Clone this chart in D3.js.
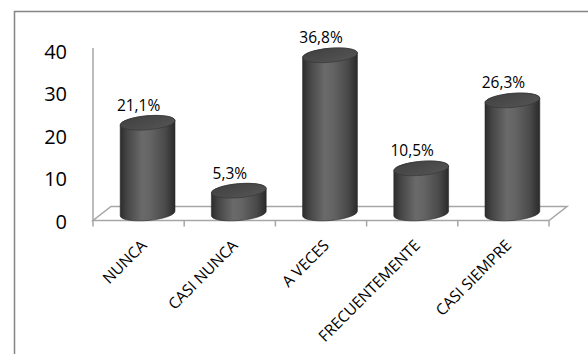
<!DOCTYPE html>
<html>
<head>
<meta charset="utf-8">
<script src="https://cdn.jsdelivr.net/npm/d3@7"></script>
<style>
  html, body { margin: 0; padding: 0; background: #fff; }
  svg { display: block; }
  text { font-family: "Open Sans", "Noto Sans", sans-serif; fill: #000; }
</style>
</head>
<body>
<svg id="chart" width="588" height="354"></svg>
<script>
const categories = ["NUNCA", "CASI NUNCA", "A VECES", "FRECUENTEMENTE", "CASI SIEMPRE"];
const values = [21.1, 5.3, 36.8, 10.5, 26.3];
const valueLabels = ["21,1%", "5,3%", "36,8%", "10,5%", "26,3%"];
const yTicks = [0, 10, 20, 30, 40];

const svg = d3.select("#chart");
const defs = svg.append("defs");

const grad = defs.append("linearGradient").attr("id", "cyl").attr("x1", "0").attr("x2", "1").attr("y1", "0").attr("y2", "0");
[[0, "#2c2c2c"], [0.12, "#444"], [0.4, "#6a6a6a"], [0.55, "#646464"], [0.82, "#4a4a4a"], [1, "#2a2a2a"]]
  .forEach(([o, c]) => grad.append("stop").attr("offset", o).attr("stop-color", c));
const gradTop = defs.append("linearGradient").attr("id", "cyltop").attr("x1", "0").attr("x2", "1").attr("y1", "0").attr("y2", "1");
[[0, "#404040"], [1, "#555555"]].forEach(([o, c]) => gradTop.append("stop").attr("offset", o).attr("stop-color", c));

// outer border
svg.append("rect").attr("x", 14.5).attr("y", 11.5).attr("width", 700).attr("height", 500)
  .attr("fill", "none").attr("stroke", "#858585").attr("stroke-width", 1.5);

const x0 = 93, x1 = 549, frontY = 220.5;
const depthX = 18, depthY = -14;

const x = d3.scaleBand().domain(categories).range([x0, x1]).padding(0);
const yAxisScale = d3.scaleLinear().domain([0, 40]).range([221.5, 51.5]);
const yBar = d3.scaleLinear().domain([0, 40]).range([frontY + depthY / 2, frontY + depthY / 2 - 172]);

const gridCol = "#a6a6a6";
// floor
const floor = [[x0, frontY], [x1, frontY], [x1 + depthX, frontY + depthY], [x0 + depthX, frontY + depthY]];
svg.append("path").attr("d", d3.line()(floor) + "Z")
  .attr("fill", "none").attr("stroke", gridCol).attr("stroke-width", 1.5);
// vertical axis line
svg.append("line").attr("x1", x0).attr("x2", x0).attr("y1", yAxisScale(40) - 3.5).attr("y2", frontY)
  .attr("stroke", gridCol).attr("stroke-width", 1.5);
// category tick marks
const bounds = categories.map(c => x(c)).concat([x1]);
svg.selectAll(".tick").data(bounds).enter().append("line")
  .attr("x1", d => d).attr("x2", d => d).attr("y1", frontY).attr("y2", frontY + 6)
  .attr("stroke", gridCol).attr("stroke-width", 1.5);

// y tick labels
svg.selectAll(".ylab").data(yTicks).enter().append("text")
  .attr("x", 67).attr("y", d => yAxisScale(d)).attr("dy", "0.36em")
  .attr("text-anchor", "end").style("font-size", "20px").text(d => d);

// cylinders
const rx = 27.5, ry = 7, tilt = -5;
const t = tilt * Math.PI / 180;
const ex = rx * Math.cos(t), ey = rx * Math.sin(t);
categories.forEach((c, i) => {
  const cx = x(c) + x.bandwidth() / 2 + depthX / 2;
  const by = yBar(0), ty = yBar(values[i]);
  const body = `M${cx - ex},${ty - ey} L${cx - ex},${by - ey} ` +
    `A${rx},${ry} ${tilt} 0 0 ${cx + ex},${by + ey} L${cx + ex},${ty + ey} ` +
    `A${rx},${ry} ${tilt} 0 0 ${cx - ex},${ty - ey} Z`;
  svg.append("path").attr("d", body).attr("fill", "url(#cyl)").attr("stroke", "#2a2a2a").attr("stroke-width", 0.6);
  svg.append("ellipse").attr("cx", cx).attr("cy", ty).attr("rx", rx).attr("ry", ry)
    .attr("transform", `rotate(${tilt},${cx},${ty})`)
    .attr("fill", "url(#cyltop)").attr("stroke", "#333").attr("stroke-width", 0.6);
  svg.append("text").attr("x", x(c) + x.bandwidth() / 2).attr("y", ty - ry - 5)
    .attr("text-anchor", "middle").style("font-size", "15.5px").text(valueLabels[i]);
});

// category labels
svg.selectAll(".xlab").data(categories).enter().append("text")
  .attr("transform", d => `translate(${x(d) + x.bandwidth() / 2 + 9},${frontY + 26}) rotate(-45)`)
  .attr("text-anchor", "end").style("font-size", "15.5px").text(d => d);
</script>
</body>
</html>
